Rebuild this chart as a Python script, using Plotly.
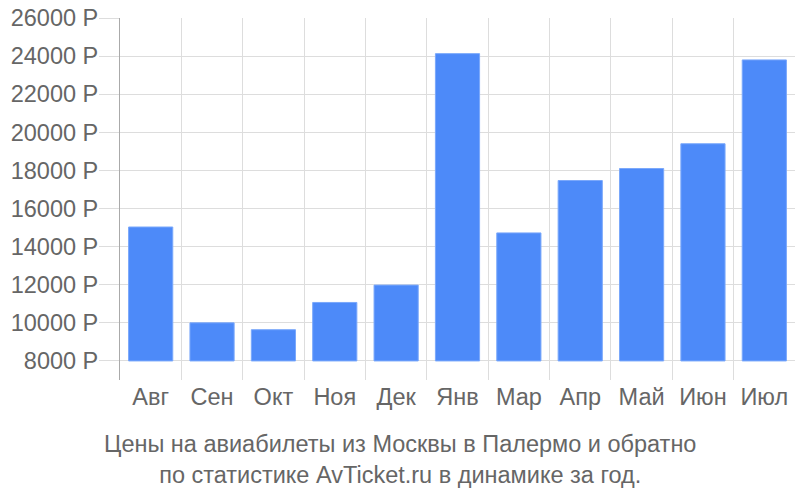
import plotly.graph_objects as go

months = ["Авг", "Сен", "Окт", "Ноя", "Дек", "Янв", "Мар", "Апр", "Май", "Июн", "Июл"]
prices = [15030, 10000, 9640, 11070, 11980, 24130, 14720, 17470, 18100, 19400, 23800]
base_value = 8000
y_ticks = [8000, 10000, 12000, 14000, 16000, 18000, 20000, 22000, 24000, 26000]
y_tick_text = [f"{v} Р" for v in y_ticks]
title_text = "Цены на авиабилеты из Москвы в Палермо и обратно<br>по статистике AvTicket.ru в динамике за год."

fig = go.Figure()
fig.add_trace(go.Bar(
    x=months,
    y=[p - base_value for p in prices],
    base=base_value,
    marker=dict(color="#4d8af9", line=dict(color="#7aa8fb", width=1)),
    width=0.72,
))

fig.update_layout(
    width=800, height=500,
    margin=dict(l=120, r=5, t=15, b=120),
    plot_bgcolor="white", paper_bgcolor="white",
    showlegend=False,
    font=dict(family="Liberation Sans, Arial, sans-serif", color="#666666", size=24),
    xaxis=dict(
        type="category",
        tickson="boundaries",
        showgrid=True, gridcolor="#dddddd", gridwidth=1,
        ticks="outside", ticklen=0,
        showline=False, zeroline=False,
        tickfont=dict(size=23.5, color="#666666"),
    ),
    yaxis=dict(
        range=[7000, 26000],
        tickvals=y_ticks, ticktext=y_tick_text,
        showgrid=True, gridcolor="#dddddd", gridwidth=1,
        ticks="outside", ticklen=20, tickcolor="#dddddd",
        showline=True, linecolor="#aaaaaa", linewidth=1,
        zeroline=False,
        ticklabeloverflow="allow",
        ticklabelstandoff=-4,
        tickfont=dict(size=23.5, color="#666666"),
    ),
    annotations=[dict(
        text=title_text, xref="paper", yref="paper",
        x=0.4148, xanchor="center", y=-0.219, yanchor="middle",
        showarrow=False, align="center",
        font=dict(size=23.5, color="#666666"),
    )],
)

fig.write_html("out.html", config={"displayModeBar": False},
               post_script="document.body.style.margin='0';")
